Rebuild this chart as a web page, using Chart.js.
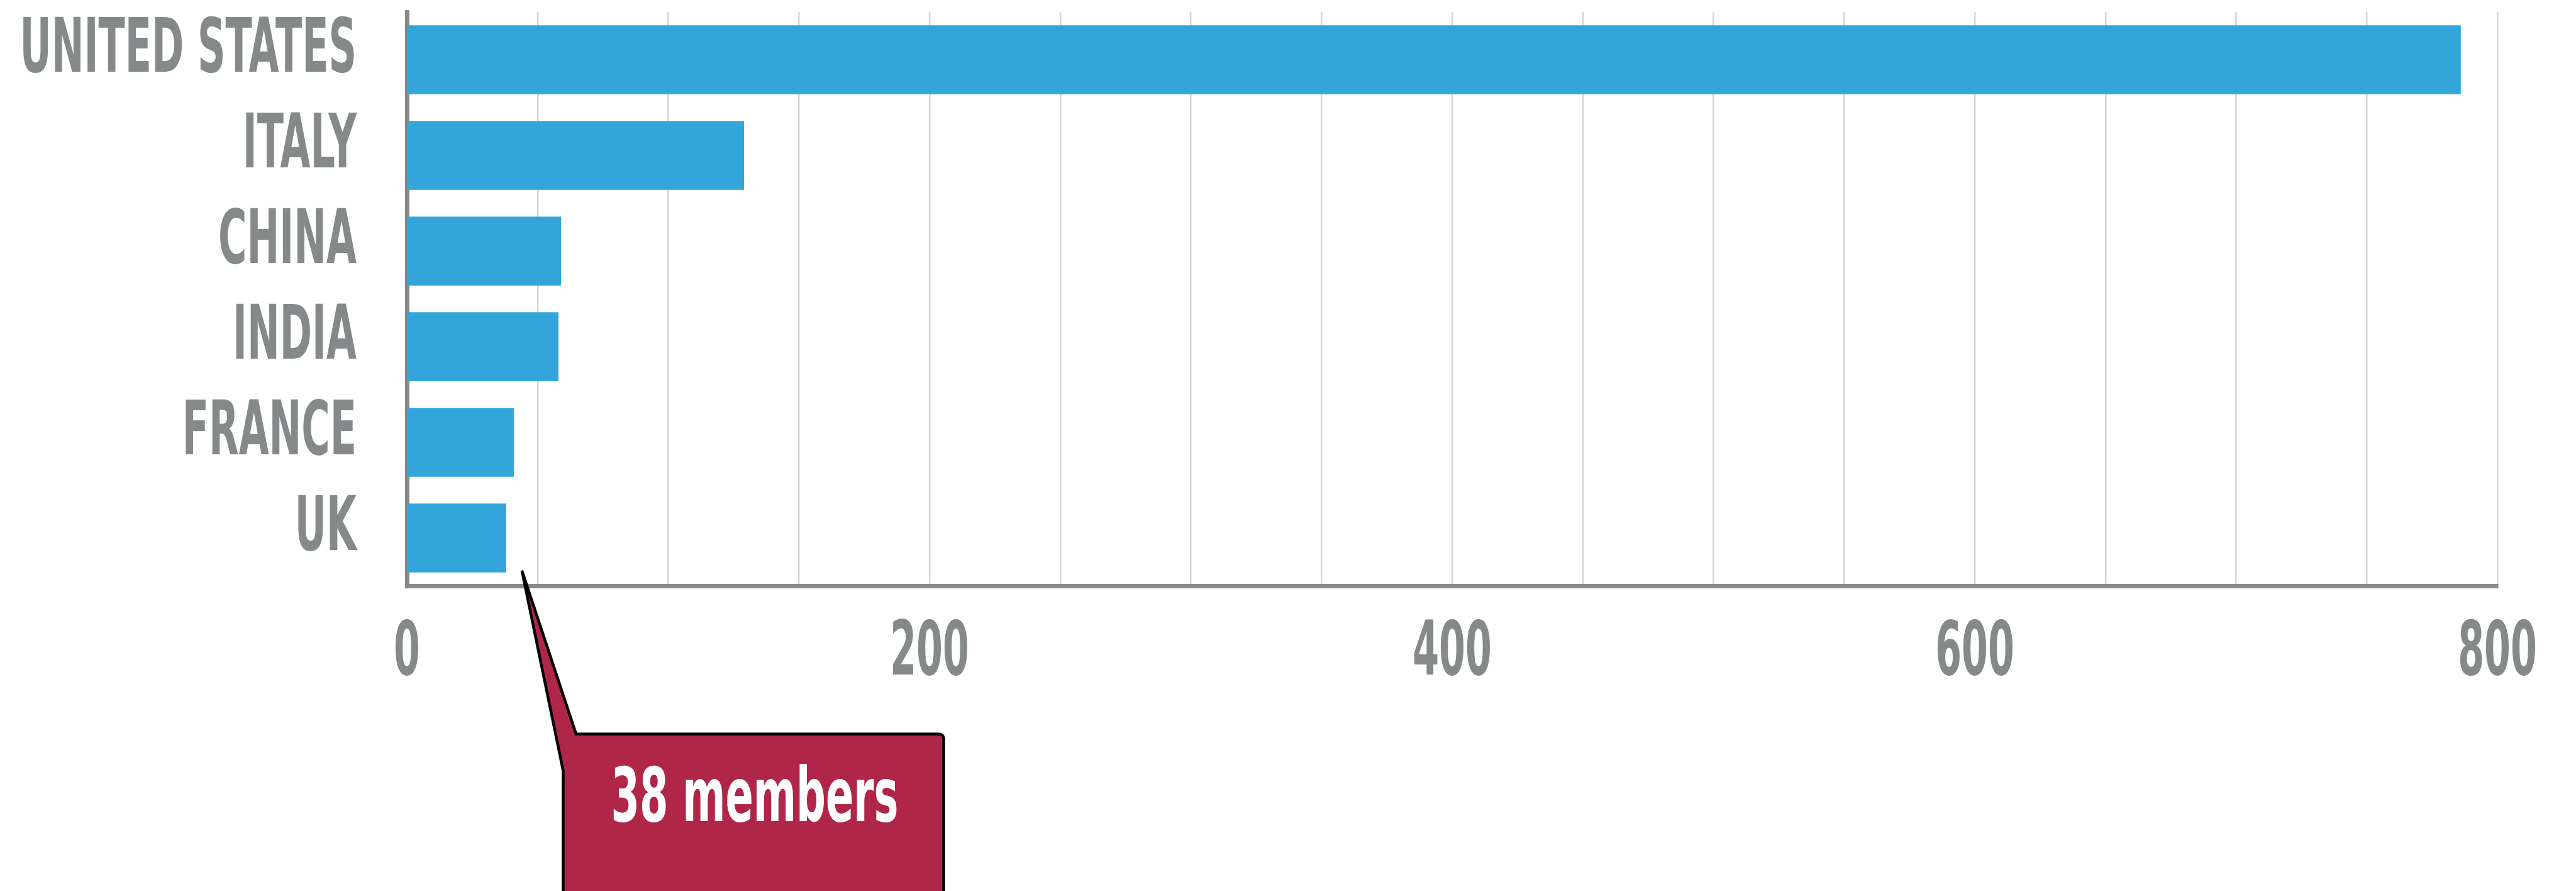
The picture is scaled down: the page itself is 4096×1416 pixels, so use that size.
<!DOCTYPE html>
<html>
<head>
<meta charset="utf-8">
<script src="https://cdn.jsdelivr.net/npm/chart.js@4.4.1/dist/chart.umd.min.js"></script>
<style>
  html, body { margin: 0; padding: 0; background: #ffffff; }
  canvas { display: block; }
</style>
</head>
<body>
<canvas id="c" width="4096" height="1416"></canvas>
<script>
// ---- data ----
const categories = ['UNITED STATES', 'ITALY', 'CHINA', 'INDIA', 'FRANCE', 'UK'];
const members = [786, 129, 59, 58, 41, 38];
const xTickLabels = ['0', '200', '400', '600', '800'];
const calloutText = '38 members';
const calloutIndex = 5; // UK

// ---- styles ----
const FONT_FAMILY = '"Liberation Sans Narrow", "DejaVu Sans Condensed", "Liberation Sans", sans-serif';
const GRAY = '#85898a';
const BAR = '#34a5db';
const CALLOUT = '#b02649';

// horizontally condense label text to mimic a condensed display face
const condenseTargets = { y: ['UNITED STATES', 535.5], x: ['800', 125.7] };
function measureWith(ctx, font, text) {
  ctx.save(); ctx.font = font; const w = ctx.measureText(text).width; ctx.restore(); return w;
}
const condensePlugin = {
  id: 'condense',
  beforeDraw(chart) {
    Object.values(chart.scales).forEach(scale => {
      if (scale._condWrapped) return;
      const tgt = condenseTargets[scale.id];
      if (!tgt) return;
      scale._condWrapped = true;
      const orig = scale.drawLabels;
      scale.drawLabels = function (area) {
        const ctx = this.ctx;
        const f = Chart.helpers.toFont(this.options.ticks.font);
        const s = tgt[1] / measureWith(ctx, f.string, tgt[0]);
        const proto = CanvasRenderingContext2D.prototype.fillText;
        ctx.fillText = function (t, x, y) {
          this.save(); this.translate(x, y); this.scale(s, 1);
          proto.call(this, t, 0, 0);
          this.restore();
        };
        try { orig.call(this, area); } finally { delete ctx.fillText; }
      };
    });
  }
};

const calloutPlugin = {
  id: 'callout',
  afterDraw(chart) {
    const ctx = chart.ctx;
    const bar = chart.getDatasetMeta(0).data[calloutIndex];
    const tipX = bar.x + 25;
    const tipY = bar.y + bar.height / 2 - 3;
    const L = 895.5, R = 1500.5, T = 1166.5, B = 1440;
    const baseTopX = 916, baseLeftY = 1225, r = 7;
    ctx.save();
    ctx.beginPath();
    ctx.moveTo(tipX, tipY);
    ctx.lineTo(baseTopX, T);
    ctx.lineTo(R - r, T);
    ctx.arcTo(R, T, R, T + r, r);
    ctx.lineTo(R, B);
    ctx.lineTo(L, B);
    ctx.lineTo(L, baseLeftY);
    ctx.closePath();
    ctx.fillStyle = CALLOUT;
    ctx.fill();
    ctx.lineWidth = 4.5;
    ctx.lineJoin = 'miter';
    ctx.strokeStyle = '#000000';
    ctx.stroke();
    // text
    const font = 'bold 120px ' + FONT_FAMILY;
    ctx.font = font;
    const w = ctx.measureText(calloutText).width;
    const s = 457 / w;
    ctx.fillStyle = '#ffffff';
    ctx.textAlign = 'center';
    ctx.textBaseline = 'alphabetic';
    ctx.translate(1200, 1305);
    ctx.scale(s, 1);
    ctx.fillText(calloutText, 0, 0);
    ctx.restore();
  }
};

new Chart(document.getElementById('c'), {
  type: 'bar',
  data: {
    labels: categories,
    datasets: [{
      data: members,
      backgroundColor: BAR,
      borderWidth: 0,
      barPercentage: 0.72,
      categoryPercentage: 1.0
    }]
  },
  options: {
    indexAxis: 'y',
    responsive: false,
    animation: false,
    devicePixelRatio: 1,
    layout: { padding: { top: 19, right: 125, bottom: 0, left: 0 } },
    plugins: { legend: { display: false }, tooltip: { enabled: false }, title: { display: false } },
    scales: {
      x: {
        type: 'linear',
        min: 0,
        max: 800,
        afterFit(scale) {
          scale.height = 485;
          scale.paddingLeft = 0; scale.paddingRight = 0;
        },
        grid: { color: '#d6d6d6', lineWidth: 2.5, drawTicks: false },
        border: { display: true, color: '#87898a', width: 7 },
        ticks: {
          stepSize: 50,
          autoSkip: false,
          maxRotation: 0,
          padding: 38,
          color: GRAY,
          font: { family: FONT_FAMILY, size: 120, weight: 'bold' },
          callback: (v) => xTickLabels.includes(String(v)) ? String(v) : ''
        }
      },
      y: {
        type: 'category',
        afterFit(scale) {
          scale.width = 647;
          scale.paddingTop = 0; scale.paddingBottom = 0;
        },
        grid: { display: false, drawTicks: false },
        border: { display: true, color: '#87898a', width: 7 },
        ticks: {
          autoSkip: false,
          padding: 80,
          labelOffset: -12,
          color: GRAY,
          font: { family: FONT_FAMILY, size: 120, weight: 'bold' }
        }
      }
    }
  },
  plugins: [condensePlugin, calloutPlugin]
});
</script>
</body>
</html>
